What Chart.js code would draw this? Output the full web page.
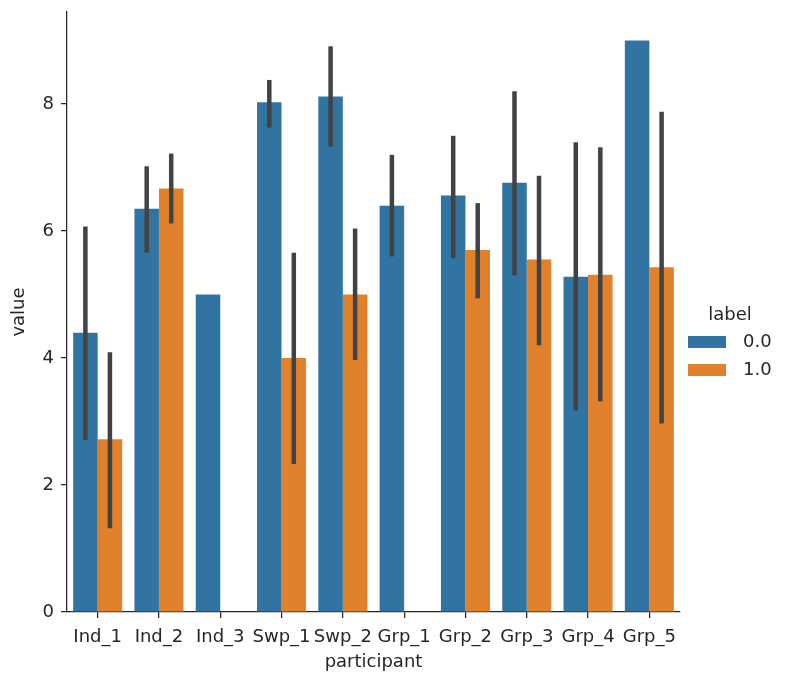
<!DOCTYPE html>
<html>
<head>
<meta charset="utf-8">
<script src="https://cdn.jsdelivr.net/npm/chart.js@4"></script>
<style>
  body { margin: 0; background: #fff; }
</style>
</head>
<body>
<canvas id="barChart" width="788" height="686"></canvas>
<script>
// participant categories and mean value per label
const categories = ['Ind_1', 'Ind_2', 'Ind_3', 'Swp_1', 'Swp_2', 'Grp_1', 'Grp_2', 'Grp_3', 'Grp_4', 'Grp_5'];
const label0 = [4.4, 6.35, 5.0, 8.03, 8.12, 6.4, 6.56, 6.76, 5.28, 9.0];
const label1 = [2.72, 6.67, null, 4.0, 5.0, null, 5.7, 5.55, 5.31, 5.43];

// confidence intervals (error bars)
const ci0Low = [2.71, 5.66, null, 7.63, 7.33, 5.6, 5.57, 5.3, 3.17, null];
const ci0High = [6.07, 7.02, null, 8.38, 8.91, 7.2, 7.5, 8.2, 7.4, null];
const ci1Low = [1.32, 6.12, null, 2.33, 3.97, null, 4.94, 4.2, 3.32, 2.97];
const ci1High = [4.09, 7.22, null, 5.66, 6.04, null, 6.44, 6.87, 7.32, 7.88];

const yTicks = [0, 2, 4, 6, 8];
const legendTitle = 'label';

const textColor = '#262626';
Chart.defaults.font.family = 'DejaVu Sans';
Chart.defaults.font.size = 18;
Chart.defaults.color = textColor;

// draws the vertical error bars over each bar
const errorBars = {
    id: 'errorBars',
    afterDatasetsDraw(chart) {
        const ctx = chart.ctx;
        const y = chart.scales.y;
        ctx.save();
        ctx.strokeStyle = '#424242';
        ctx.lineWidth = 4.5;
        ctx.lineCap = 'butt';
        chart.data.datasets.forEach((ds, i) => {
            const meta = chart.getDatasetMeta(i);
            meta.data.forEach((bar, j) => {
                const lo = ds.ciLow[j], hi = ds.ciHigh[j];
                if (lo == null || hi == null) return;
                ctx.beginPath();
                ctx.moveTo(bar.x, y.getPixelForValue(lo));
                ctx.lineTo(bar.x, y.getPixelForValue(hi));
                ctx.stroke();
            });
        });
        ctx.restore();
    }
};

// seaborn style legend outside the axes on the right
const sideLegend = {
    id: 'sideLegend',
    afterDraw(chart) {
        const ctx = chart.ctx;
        ctx.save();
        ctx.font = '18px "DejaVu Sans"';
        ctx.fillStyle = textColor;
        ctx.textAlign = 'center';
        ctx.textBaseline = 'middle';
        ctx.fillText(legendTitle, 730, 315);
        chart.data.datasets.forEach((ds, i) => {
            const rowY = 342 + i * 28;
            ctx.fillStyle = ds.backgroundColor;
            ctx.fillRect(688, rowY - 6, 38, 12);
            ctx.fillStyle = textColor;
            ctx.textAlign = 'left';
            ctx.fillText(ds.label, 743, rowY);
        });
        ctx.restore();
    }
};

new Chart(document.getElementById('barChart').getContext('2d'), {
    type: 'bar',
    data: {
        labels: categories,
        datasets: [{
            label: '0.0',
            data: label0,
            ciLow: ci0Low,
            ciHigh: ci0High,
            backgroundColor: '#3274a1',
            borderWidth: 0
        }, {
            label: '1.0',
            data: label1,
            ciLow: ci1Low,
            ciHigh: ci1High,
            backgroundColor: '#e1812c',
            borderWidth: 0
        }]
    },
    options: {
        responsive: false,
        animation: false,
        layout: { padding: { top: 12, right: 108, left: 0, bottom: 0 } },
        datasets: { bar: { categoryPercentage: 0.8, barPercentage: 1.0 } },
        plugins: {
            legend: { display: false },
            tooltip: { enabled: false }
        },
        scales: {
            x: {
                grid: { display: true, offset: false, drawOnChartArea: false, drawTicks: true, tickLength: 6, color: textColor, lineWidth: 1.25 },
                border: { color: textColor, width: 1.25 },
                ticks: { padding: 9, maxRotation: 0, autoSkip: false, color: textColor },
                title: { display: true, text: 'participant', color: textColor, padding: { top: 0, bottom: 13 } },
                afterFit: s => { s.height = 74; s.paddingLeft = 0; s.paddingRight = 0; }
            },
            y: {
                min: 0,
                max: 9.45,
                afterBuildTicks: s => { s.ticks = yTicks.map(v => ({ value: v })); },
                grid: { display: true, drawOnChartArea: false, drawTicks: true, tickLength: 6, color: textColor, lineWidth: 1.25 },
                border: { color: textColor, width: 1.25 },
                ticks: { padding: 7, color: textColor },
                title: { display: true, text: 'value', color: textColor, padding: { top: 9, bottom: 0 } },
                afterFit: s => { s.width = 67; s.paddingTop = 0; s.paddingBottom = 0; }
            }
        }
    },
    plugins: [errorBars, sideLegend]
});
</script>
</body>
</html>
